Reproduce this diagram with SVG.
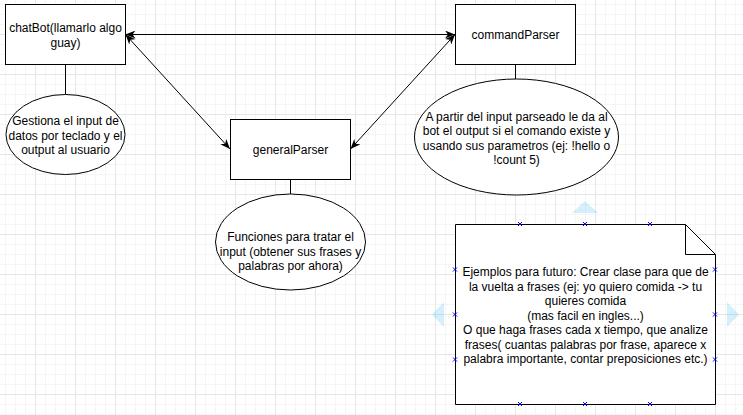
<svg xmlns="http://www.w3.org/2000/svg" width="743" height="415" viewBox="0 0 743 415">
<style>
.box{fill:#fff;stroke:#000;stroke-width:1}
.ell{fill:#fff;stroke:#000;stroke-width:1}
.stub{stroke:#000;stroke-width:1;fill:none}
.conn{stroke:#000;stroke-width:1;fill:none;marker-start:url(#arr);marker-end:url(#arr)}
text{font-family:"Liberation Sans",Arial,Helvetica,sans-serif;font-size:12px;fill:#000;text-anchor:middle}
.hover{fill:#29b6f2;fill-opacity:0.2}
.xm{stroke:#0000ff;stroke-width:1;fill:none}
</style>
<defs>
<pattern id="minor" patternUnits="userSpaceOnUse" x="5" y="4" width="10" height="10">
<rect x="0" y="0" width="1" height="10" fill="#f5f5f5"/>
<rect x="0" y="0" width="10" height="1" fill="#f5f5f5"/>
</pattern>
<pattern id="major" patternUnits="userSpaceOnUse" x="35" y="34" width="40" height="40">
<rect x="0" y="0" width="1" height="40" fill="#e6e6e6"/>
<rect x="0" y="0" width="40" height="1" fill="#e6e6e6"/>
</pattern>
<marker id="arr" viewBox="0 0 10 8" refX="10" refY="4" markerWidth="10" markerHeight="8" markerUnits="userSpaceOnUse" orient="auto-start-reverse">
<path d="M0,0 L10,4 L0,8 L3,4 Z" fill="#000"/>
</marker>
</defs>
<rect width="743" height="415" fill="#fff"/>
<rect width="743" height="415" fill="url(#minor)"/>
<rect width="743" height="415" fill="url(#major)"/>

<g id="connectors">
<line class="conn" x1="125.5" y1="34.5" x2="455" y2="34.5"/>
<line class="conn" x1="125.5" y1="34.5" x2="230" y2="149"/>
<line class="conn" x1="455" y1="34.5" x2="350.5" y2="149"/>
<line class="stub" x1="65.5" y1="64.5" x2="65.5" y2="94.5"/>
<line class="stub" x1="515.5" y1="64.5" x2="515.5" y2="79"/>
<line class="stub" x1="290.5" y1="179.5" x2="290.5" y2="194.5"/>
</g>

<g id="chatBot">
<rect class="box" x="5.5" y="4.5" width="120" height="60"/>
<text x="65.5" y="32">chatBot(llamarlo algo</text>
<text x="65.5" y="46.5">guay)</text>
</g>

<g id="chatBotNote">
<ellipse class="ell" cx="65.5" cy="134.5" rx="59.5" ry="40"/>
<text x="65.5" y="125">Gestiona el input de</text>
<text x="65.5" y="139.5">datos por teclado y el</text>
<text x="65.5" y="154">output al usuario</text>
</g>

<g id="commandParser">
<rect class="box" x="455.5" y="4.5" width="120" height="60"/>
<text x="515.5" y="38.5">commandParser</text>
</g>

<g id="commandParserNote">
<ellipse class="ell" cx="516.5" cy="137" rx="102" ry="58"/>
<text x="516.5" y="120.5">A partir del input parseado le da al</text>
<text x="516.5" y="135">bot el output si el comando existe y</text>
<text x="516.5" y="149.5">usando sus parametros (ej: !hello o</text>
<text x="516.5" y="164">!count 5)</text>
</g>

<g id="generalParser">
<rect class="box" x="230.5" y="119.5" width="120" height="60"/>
<text x="290.5" y="154">generalParser</text>
</g>

<g id="generalParserNote">
<ellipse class="ell" cx="290.5" cy="242" rx="75" ry="48"/>
<text x="290.5" y="241">Funciones para tratar el</text>
<text x="290.5" y="255.5">input (obtener sus frases y</text>
<text x="290.5" y="270">palabras por ahora)</text>
</g>

<g id="futureNote">
<path class="box" d="M455.5,224.5 H685.5 L715.5,254.5 V404.5 H455.5 Z"/>
<path class="stub" d="M685.5,224.5 V254.5 H715.5"/>
<text x="585.5" y="276">Ejemplos para futuro: Crear clase para que de</text>
<text x="585.5" y="290.5">la vuelta a frases (ej: yo quiero comida -&gt; tu</text>
<text x="585.5" y="305">quieres comida</text>
<text x="585.5" y="319.5">(mas facil en ingles...)</text>
<text x="585.5" y="334">O que haga frases cada x tiempo, que analize</text>
<text x="585.5" y="348.5">frases( cuantas palabras por frase, aparece x</text>
<text x="585.5" y="363">palabra importante, contar preposiciones etc.)</text>
</g>

<g id="selection">
<path class="hover" d="M585,201 L598,213 L572,213 Z"/>
<path class="hover" d="M432,314.5 L444,302 L444,327 Z"/>
<path class="hover" d="M739,314.5 L727,302 L727,327 Z"/>
<path class="xm" d="M518,222 l4,4 m0,-4 l-4,4 M583,222 l4,4 m0,-4 l-4,4 M648,222 l4,4 m0,-4 l-4,4 M518,402 l4,4 m0,-4 l-4,4 M583,402 l4,4 m0,-4 l-4,4 M648,402 l4,4 m0,-4 l-4,4 M453,267.5 l4,4 m0,-4 l-4,4 M453,312.5 l4,4 m0,-4 l-4,4 M453,357.5 l4,4 m0,-4 l-4,4 M713,267.5 l4,4 m0,-4 l-4,4 M713,312.5 l4,4 m0,-4 l-4,4 M713,357.5 l4,4 m0,-4 l-4,4"/>
</g>
</svg>
